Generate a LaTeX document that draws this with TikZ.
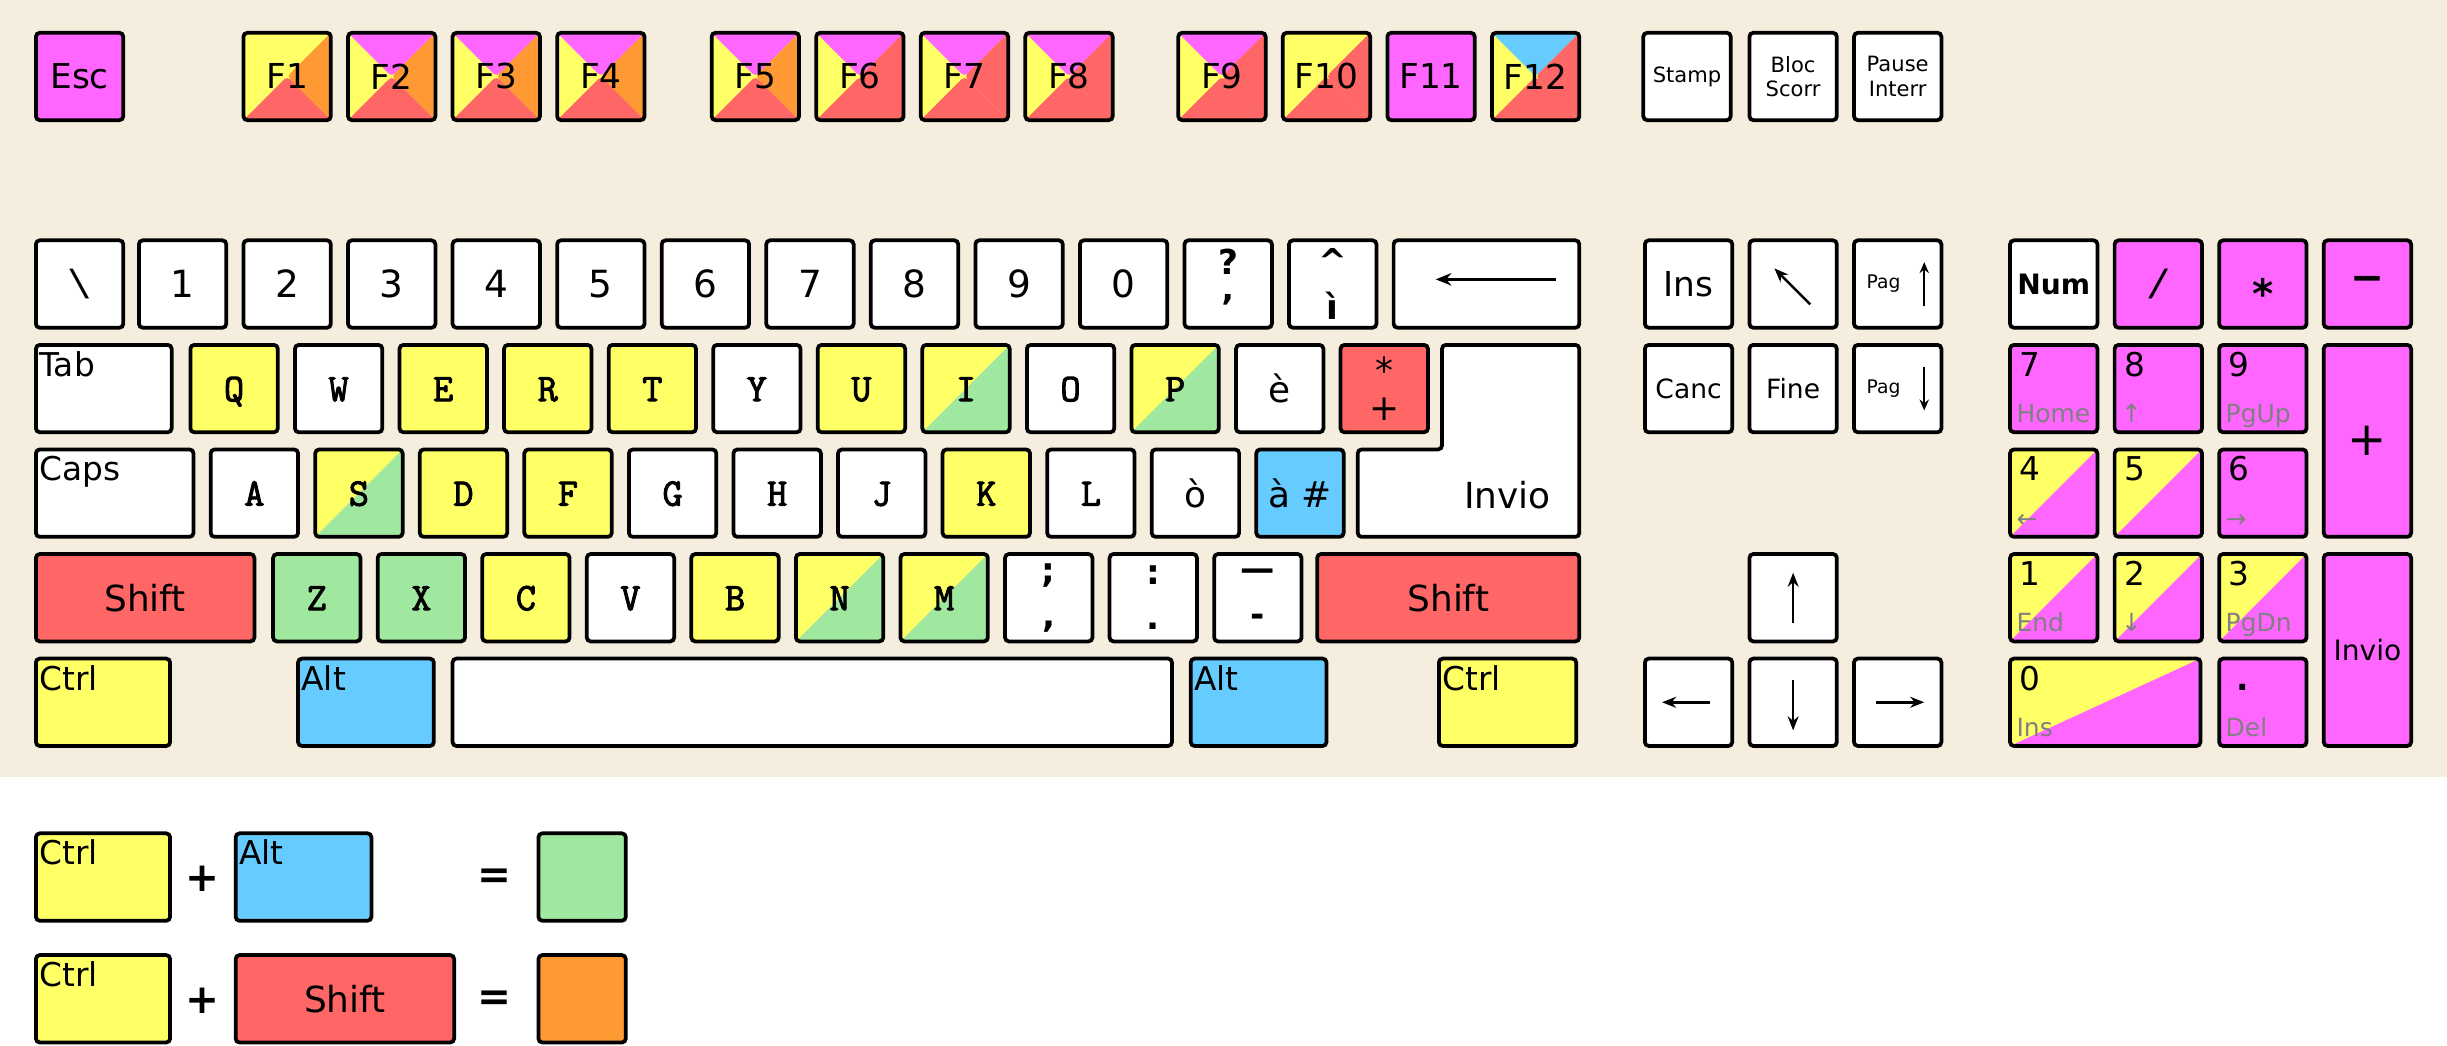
\documentclass[tikz,border=0pt]{standalone}
\usepackage{fontspec}
\setmainfont{DejaVu Sans}
\newfontfamily\monofont{Liberation Mono}
\newfontfamily\buchfont[FakeBold=2.5]{Latin Modern Mono}
\usetikzlibrary{arrows.meta}

\definecolor{tgelb}{RGB}{255,255,102}
\definecolor{tmagenta}{RGB}{255,102,255}
\definecolor{trot}{RGB}{255,102,102}
\definecolor{torange}{RGB}{255,153,51}
\definecolor{tgruen}{RGB}{160,232,160}
\definecolor{tblau}{RGB}{102,204,255}
\definecolor{tbeige}{RGB}{245,238,222}
\definecolor{tgrau}{RGB}{128,128,128}

\tikzset{
  taste/.style={draw, line width=2.4pt, rounded corners=2.5pt, inner sep=0pt, outer sep=0pt,
    anchor=north west, minimum width=56pt, minimum height=56pt, fill=white},
  breit/.style={minimum width={(#1-2)*1pt}},
  hoch/.style={minimum height={(#1-2)*1pt}},
  % Taste diagonal geteilt (oben links Grundfarbe, unten rechts #1)
  halb/.style={path picture={\fill[#1] (path picture bounding box.north east) -- (path picture bounding box.south east) -- (path picture bounding box.south west) -- cycle;}},
  % Taste in vier Dreiecke geteilt: oben, links, rechts, unten
  viertel/.style n args={4}{fill=#2, path picture={
    \fill[#1] (path picture bounding box.north west) -- (path picture bounding box.center) -- (path picture bounding box.north east) -- cycle;
    \fill[#3] (path picture bounding box.north east) -- (path picture bounding box.center) -- (path picture bounding box.south east) -- cycle;
    \fill[#4] (path picture bounding box.south west) -- (path picture bounding box.center) -- (path picture bounding box.south east) -- cycle;}},
  pix/.style={font=\fontsize{22}{26}\selectfont},
  ziff/.style={font=\fontsize{24}{28}\selectfont},
  buch/.style={font=\buchfont\fontsize{25}{26}\selectfont, text height=16pt, text depth=0pt},
  lab/.style={font=\fontsize{23}{27}\selectfont},
  sym/.style={font=\bfseries\fontsize{22}{29}\selectfont, align=center},
  klein/.style={font=\fontsize{13.5}{15.5}\selectfont, align=center},
  ecke/.style={anchor=north west, inner sep=0pt, font=\fontsize{21}{24}\selectfont},
  ziffer/.style={anchor=north west, inner sep=0pt, text height=15pt, text depth=0pt, font=\fontsize{21}{24}\selectfont},
  zweit/.style={anchor=south west, inner sep=0pt, text depth=0pt, text=tgrau, font=\fontsize{16}{18}\selectfont},
  rech/.style={inner sep=0pt, font=\bfseries\fontsize{26}{28}\selectfont},
  pfeil/.style={-{Stealth[length=9pt,width=7pt]}, line width=1.6pt},
}

\begin{document}
\begin{tikzpicture}[x=1pt,y=-1pt]
  \useasboundingbox (0,0) rectangle (1568,670);
  \fill[white] (0,0) rectangle (1568,670);
  \fill[tbeige] (0,0) rectangle (1568,498);

  % Funktionstasten
  \node[taste, pix, fill=tmagenta] (esc) at (23,21) {Esc};
  \foreach \nm/\x/\lab/\co/\cl/\cr/\cu in {
      f1/155/F1/tgelb/tgelb/torange/trot,
      f2/222/F2/tmagenta/tgelb/torange/trot,
      f3/289/F3/tmagenta/tgelb/torange/trot,
      f4/356/F4/tmagenta/tgelb/torange/trot,
      f5/455/F5/tmagenta/tgelb/torange/trot,
      f6/522/F6/tmagenta/tgelb/trot/trot,
      f7/589/F7/tmagenta/tgelb/trot/trot,
      f8/656/F8/tmagenta/tgelb/trot/trot,
      f9/754/F9/tmagenta/tgelb/trot/trot,
      f10/821/F10/tgelb/tgelb/trot/trot,
      f11/888/F11/tmagenta/tmagenta/tmagenta/tmagenta,
      f12/955/F12/tblau/tgelb/trot/trot}
    \node[taste, pix, viertel={\co}{\cl}{\cr}{\cu}] (\nm) at (\x+1,21) {\lab};
  \node[taste, klein] (stamp) at (1053,21) {Stamp};
  \node[taste, klein] (bloc) at (1121,21) {Bloc\\Scorr};
  \node[taste, klein] (pause) at (1188,21) {Pause\\Interr};

  % Zahlenreihe
  \node[taste, font=\monofont\fontsize{26}{28}\selectfont] (bslash) at (23,154) {\textbackslash};
  \foreach \nm/\x/\lab in {n1/88/1, n2/155/2, n3/222/3, n4/289/4, n5/356/5,
      n6/423/6, n7/490/7, n8/557/8, n9/624/9, n0/691/0}
    \node[taste, ziff] (\nm) at (\x+1,154) {\lab};
  \node[taste, sym] (apo) at (759,154) {?\\'};
  \node[taste, sym] (igrave) at (826,154) {\textasciicircum\\ì};
  \node[taste, breit=121] (bksp) at (893,154) {};
  \draw[pfeil, -{Stealth[length=10pt,width=8pt]}] ([xshift=-15pt,yshift=3pt]bksp.east) -- ([xshift=27pt,yshift=3pt]bksp.west);

  % Reihe Q
  \node[taste, breit=89] (tab) at (23,221) {};
  \node[ecke] (tab-t) at ([xshift=2pt,yshift=-4pt]tab.north west) {Tab};
  \foreach \nm/\x/\lab/\fa/\fb in {q/121/Q/tgelb/tgelb, w/188/W/white/white,
      e/255/E/tgelb/tgelb, r/322/R/tgelb/tgelb, t/389/T/tgelb/tgelb,
      y/456/Y/white/white, u/523/U/tgelb/tgelb, i/590/I/tgelb/tgruen,
      o/657/O/white/white, p/724/P/tgelb/tgruen}
    \node[taste, buch, fill=\fa, halb=\fb] (\nm) at (\x+1,221) {\lab};
  \node[taste, lab] (egrave) at (792,221) {è};
  \node[taste, lab, fill=trot, align=center, font=\fontsize{23}{24}\selectfont] (piu) at (859,221) {*\\+};
  \filldraw[fill=white, line width=2.4pt, rounded corners=2.5pt]
    (924,221) -- (1012,221) -- (1012,344) -- (870,344) -- (870,288) -- (924,288) -- cycle;
  \node[lab, inner sep=0pt] (invio) at (966,317) {Invio};

  % Reihe A
  \node[taste, breit=103] (caps) at (23,288) {};
  \node[ecke] (caps-t) at ([xshift=2pt,yshift=-4pt]caps.north west) {Caps};
  \foreach \nm/\x/\lab/\fa/\fb in {a/134/A/white/white, s/201/S/tgelb/tgruen,
      d/268/D/tgelb/tgelb, f/335/F/tgelb/tgelb, g/402/G/white/white,
      h/469/H/white/white, j/536/J/white/white, k/603/K/tgelb/tgelb,
      l/670/L/white/white}
    \node[taste, buch, fill=\fa, halb=\fb] (\nm) at (\x+1,288) {\lab};
  \node[taste, lab] (ograve) at (738,288) {ò};
  \node[taste, lab, fill=tblau] (agrave) at (805,288) {à \#};

  % Reihe Z
  \node[taste, breit=142, fill=trot, lab] (shiftl) at (23,355) {Shift};
  \foreach \nm/\x/\lab/\fa/\fb in {z/174/Z/tgruen/tgruen, x/241/X/tgruen/tgruen,
      c/308/C/tgelb/tgelb, v/375/V/white/white, b/442/B/tgelb/tgelb,
      n/509/N/tgelb/tgruen, m/576/M/tgelb/tgruen}
    \node[taste, buch, fill=\fa, halb=\fb] (\nm) at (\x+1,355) {\lab};
  \node[taste, sym] (pvirg) at (644,355) {;\\,};
  \node[taste, sym] (dpunti) at (711,355) {:\\.};
  \node[taste, sym] (trattino) at (778,355) {—\\-};
  \node[taste, breit=170, fill=trot, lab] (shiftr) at (844,355) {Shift};

  % unterste Reihe
  \node[taste, breit=88, fill=tgelb] (ctrll) at (23,422) {};
  \node[ecke] (ctrll-t) at ([xshift=2pt,yshift=-4pt]ctrll.north west) {Ctrl};
  \node[taste, breit=89, fill=tblau] (altl) at (191,422) {};
  \node[ecke] (altl-t) at ([xshift=2pt,yshift=-4pt]altl.north west) {Alt};
  \node[taste, breit=463] (spazio) at (290,422) {};
  \node[taste, breit=89, fill=tblau] (altr) at (763,422) {};
  \node[ecke] (altr-t) at ([xshift=2pt,yshift=-4pt]altr.north west) {Alt};
  \node[taste, breit=90, fill=tgelb] (ctrlr) at (922,422) {};
  \node[ecke] (ctrlr-t) at ([xshift=2pt,yshift=-4pt]ctrlr.north west) {Ctrl};

  % Steuerblock
  \node[taste, font=\fontsize{22}{24}\selectfont] (ins) at (1054,154) {Ins};
  \node[taste] (home) at (1121,154) {};
  \draw[pfeil] ([xshift=11pt,yshift=-13pt]home.center) -- ([xshift=-12pt,yshift=10pt]home.center);
  \node[taste] (pagsu) at (1188,154) {};
  \node[inner sep=0pt, font=\fontsize{12}{14}\selectfont] (pagsu-t) at ([xshift=-9pt]pagsu.center) {Pag};
  \draw[pfeil, -{Stealth[length=7pt,width=6pt]}, line width=1.3pt] ([xshift=17pt,yshift=-14pt]pagsu.center) -- ([xshift=17pt,yshift=14pt]pagsu.center);
  \node[taste, font=\fontsize{17}{20}\selectfont] (canc) at (1054,221) {Canc};
  \node[taste, font=\fontsize{17}{20}\selectfont] (fine) at (1121,221) {Fine};
  \node[taste] (paggiu) at (1188,221) {};
  \node[inner sep=0pt, font=\fontsize{12}{14}\selectfont] (paggiu-t) at ([xshift=-9pt]paggiu.center) {Pag};
  \draw[pfeil, -{Stealth[length=7pt,width=6pt]}, line width=1.3pt] ([xshift=17pt,yshift=14pt]paggiu.center) -- ([xshift=17pt,yshift=-14pt]paggiu.center);

  % Pfeiltasten
  \node[taste] (su) at (1121,355) {};
  \node[taste] (sx) at (1054,422) {};
  \node[taste] (giu) at (1121,422) {};
  \node[taste] (dx) at (1188,422) {};
  \draw[pfeil] ([yshift=-16pt]su.center) -- ([yshift=16pt]su.center);
  \draw[pfeil] ([yshift=14pt]giu.center) -- ([yshift=-18pt]giu.center);
  \draw[pfeil] ([xshift=14pt]sx.center) -- ([xshift=-17pt]sx.center);
  \draw[pfeil] ([xshift=-14pt]dx.center) -- ([xshift=17pt]dx.center);

  % Ziffernblock
  \node[taste, font=\bfseries\fontsize{18}{20}\selectfont] (num) at (1288,154) {Num};
  \node[taste, fill=tmagenta, font=\monofont\fontsize{26}{28}\selectfont] (diviso) at (1355,154) {/};
  \node[taste, fill=tmagenta, font=\bfseries\fontsize{26}{28}\selectfont, text height=31pt, text depth=0pt] (per) at (1422,154) {*};
  \node[taste, fill=tmagenta, font=\bfseries\fontsize{26}{28}\selectfont] (meno) at (1489,154) {−};
  \node[taste, fill=tmagenta, hoch=125, font=\fontsize{30}{32}\selectfont] (piukp) at (1489,221) {+};
  \node[taste, fill=tmagenta, hoch=125, font=\fontsize{18}{20}\selectfont] (inviokp) at (1489,355) {Invio};
  \foreach \nm/\x/\y/\lab/\fb in {kp7/1288/221/7/tmagenta, kp8/1355/221/8/tmagenta,
      kp9/1422/221/9/tmagenta, kp4/1288/288/4/tgelb, kp5/1355/288/5/tgelb,
      kp6/1422/288/6/tmagenta, kp1/1288/355/1/tgelb, kp2/1355/355/2/tgelb,
      kp3/1422/355/3/tgelb, kpp/1422/422/./tmagenta}
    \node[taste, fill=\fb, halb=tmagenta] (\nm) at (\x,\y) {};
  \node[taste, breit=124, fill=tgelb, halb=tmagenta] (kp0) at (1288,422) {};
  \foreach \nm/\lab in {kp7/7, kp8/8, kp9/9, kp4/4, kp5/5, kp6/6, kp1/1, kp2/2, kp3/3, kp0/0}
    \node[ziffer] (\nm-t) at ([xshift=6pt,yshift=-5pt]\nm.north west) {\lab};
  \node[ziffer, font=\bfseries\fontsize{21}{24}\selectfont] (kpp-t) at ([xshift=11pt,yshift=-5pt]kpp.north west) {.};
  \foreach \nm/\lab in {kp7/Home, kp8/↑, kp9/PgUp, kp4/←, kp6/→, kp1/End,
      kp2/↓, kp3/PgDn, kp0/Ins, kpp/Del}
    \node[zweit] (\nm-b) at ([xshift=4pt,yshift=6pt]\nm.south west) {\lab};

  % Legende
  \node[taste, breit=88, fill=tgelb] (lctrla) at (23,534) {};
  \node[ecke] (lctrla-t) at ([xshift=2pt,yshift=-4pt]lctrla.north west) {Ctrl};
  \node[rech] (lpiua) at (130,563) {+};
  \node[taste, breit=89, fill=tblau] (lalt) at (151,534) {};
  \node[ecke] (lalt-t) at ([xshift=2pt,yshift=-4pt]lalt.north west) {Alt};
  \node[rech] (luguala) at (317,563) {=};
  \node[taste, fill=tgruen] (lgruen) at (345,534) {};

  \node[taste, breit=88, fill=tgelb] (lctrlb) at (23,612) {};
  \node[ecke] (lctrlb-t) at ([xshift=2pt,yshift=-4pt]lctrlb.north west) {Ctrl};
  \node[rech] (lpiub) at (130,641) {+};
  \node[taste, breit=142, fill=trot, lab] (lshift) at (151,612) {Shift};
  \node[rech] (lugualb) at (317,641) {=};
  \node[taste, fill=torange] (lorange) at (345,612) {};
\end{tikzpicture}
\end{document}
